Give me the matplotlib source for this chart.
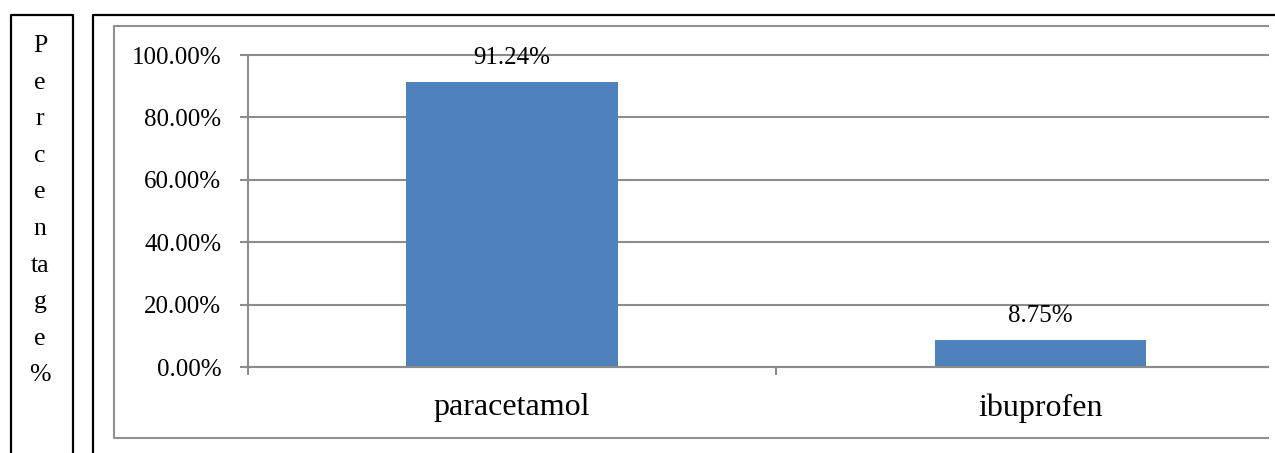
import matplotlib
matplotlib.use("Agg")
import matplotlib.pyplot as plt
from matplotlib.lines import Line2D

# Data
categories = ["paracetamol", "ibuprofen"]
percentages = [0.9124, 0.0875]
y_ticks = [0.0, 0.2, 0.4, 0.6, 0.8, 1.0]
y_tick_labels = ["0.00%", "20.00%", "40.00%", "60.00%", "80.00%", "100.00%"]
ylabel_lines = ["P", "e", "r", "c", "e", "n", "ta", "g", "e", "%"]

plt.rcParams["font.family"] = ["Liberation Serif", "DejaVu Serif"]

W, H = 1275, 453
fig = plt.figure(figsize=(W / 100, H / 100), dpi=100)
fig.patch.set_facecolor("white")


def fx(px):
    return px / W


def fy(py):
    return 1 - py / H


GRID = "#8c8c8c"
BAR = "#4F81BD"
LW = 1.5

# Plot area
ax = fig.add_axes([fx(248), fy(367), fx(1268) - fx(248), fy(55) - fy(367)])
x = list(range(len(categories)))
ax.bar(x, percentages, width=0.4, color=BAR, zorder=2)
ax.set_axisbelow(True)

ax.set_yticks(y_ticks)
ax.set_yticklabels(y_tick_labels, fontsize=18)
ax.yaxis.grid(True, color=GRID, linewidth=LW)
ax.tick_params(axis="y", direction="out", length=5.8, width=LW, color=GRID, pad=13.5)

ax.set_xticks(x)
ax.set_xticklabels(categories, fontsize=23)
ax.set_xticks([-0.5, 0.5, 1.5], minor=True)
ax.tick_params(axis="x", which="major", length=0, pad=19)
ax.tick_params(axis="x", which="minor", direction="out", length=5.8, width=LW, color=GRID)

# limits after the ticks so the category boundaries do not widen the view
ax.set_xlim(-0.5, 1.431)
ax.set_ylim(0, 1.0)
for gl in ax.get_ygridlines():
    gl.set_clip_on(False)

for side in ("top", "right"):
    ax.spines[side].set_visible(False)
for side in ("left", "bottom"):
    ax.spines[side].set_color(GRID)
    ax.spines[side].set_linewidth(LW)

for xi, v in zip(x, percentages):
    ax.annotate(f"{v * 100:.2f}%", (xi, v), xytext=(0, 13), textcoords="offset points",
                ha="center", va="baseline", fontsize=18)

# Vertical axis caption, one piece per line
for i, s in enumerate(ylabel_lines):
    fig.text(fx(40), fy(52 + 36.6 * i), s, ha="center", va="baseline", fontsize=18.5)


def fig_line(xs, ys, color, lw):
    fig.add_artist(Line2D([fx(v) for v in xs], [fy(v) for v in ys],
                          transform=fig.transFigure, color=color, linewidth=lw,
                          solid_capstyle="projecting"))


# Chart frame (grey)
fig_line([1268, 114, 114, 1268], [26, 26, 438, 438], "#8f8f8f", LW)

# Outer boxes (black)
fig_line([11, 11, 73, 73], [460, 15, 15, 460], "black", 1.6)
fig_line([93, 93, 1280], [460, 15, 15], "black", 1.6)

fig.savefig("out.png", dpi=100, facecolor="white")
